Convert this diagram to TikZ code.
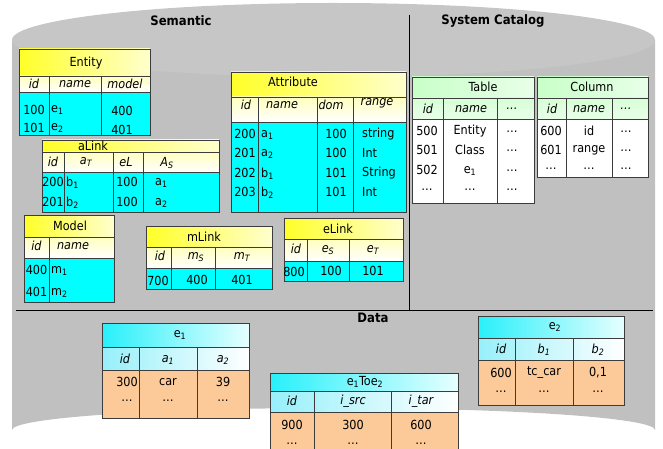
\documentclass[tikz,border=0pt]{standalone}
\usepackage{fontspec}
\setmainfont{DejaVu Sans Condensed}
\usetikzlibrary{shadings}
\definecolor{bdc}{RGB}{60,60,60}
\definecolor{cylBody}{RGB}{192,192,192}
\definecolor{cylTop}{RGB}{198,198,198}
\definecolor{yelA}{RGB}{255,255,40}
\definecolor{yelB}{RGB}{255,255,205}
\definecolor{yelH}{RGB}{255,255,190}
\definecolor{cyD}{RGB}{0,255,255}
\definecolor{grA}{RGB}{200,255,200}
\definecolor{grB}{RGB}{232,255,232}
\definecolor{grH}{RGB}{214,255,214}
\definecolor{bluA}{RGB}{40,240,250}
\definecolor{bluB}{RGB}{230,255,255}
\definecolor{bluH}{RGB}{150,240,250}
\definecolor{peach}{RGB}{252,202,152}
\tikzset{
  bd/.style={draw=bdc,line width=0.8pt},
  ttlY/.style={left color=yelA,right color=yelB},
  hdrY/.style={top color=yelH,bottom color=white},
  datY/.style={fill=cyD},
  ttlG/.style={left color=grA,right color=grB},
  hdrG/.style={top color=grH,bottom color=grB},
  datG/.style={fill=white},
  ttlB/.style={left color=bluA,right color=bluB},
  hdrB/.style={left color=bluH,right color=white},
  datB/.style={fill=peach},
  tx/.style={inner sep=0pt,anchor=center},
  tw/.style={inner sep=0pt,anchor=west},
  hd/.style={inner sep=0pt,anchor=center,font=\fontsize{12.5}{14}\selectfont\itshape},
  big/.style={inner sep=0pt,font=\fontsize{13}{15}\selectfont\bfseries},
  every node/.style={font=\fontsize{12.5}{14}\selectfont}
}
\newcommand{\tabl}[8]{%
  \path[ttl#1] (#2,#3) rectangle (#4,#6);
  \path[hdr#1] (#2,#6) rectangle (#4,#7);
  \path[dat#1] (#2,#7) rectangle (#4,#5);
  \draw[bd] (#2,#3) rectangle (#4,#5) (#2,#6) -- (#4,#6) (#2,#7) -- (#4,#7);
  \foreach \cx in {#8} {\draw[bd] (\cx,#6) -- (\cx,#5);}
}
\newcommand{\sbs}[1]{\textsubscript{#1}}
\begin{document}
\begin{tikzpicture}[x=1pt,y=-1pt]
\useasboundingbox (0,0) rectangle (663,449);
% cylinder
\fill[cylBody] (12,40) -- (12,430) arc[start angle=180,end angle=360,x radius=321.5,y radius=22] -- (655,40) -- cycle;
\fill[cylTop] (333.5,40) ellipse[x radius=321.5,y radius=37];
% dividers
\draw[black,line width=0.8pt] (409,15) -- (409,310.5);
\draw[black,line width=0.8pt] (16,310.5) -- (653,310.5);
\node[big] (lSem) at (181,21) {Semantic};
\node[big] (lSys) at (493,21) {System Catalog};
\node[big] (lDat) at (373,318) {Data};

% Entity
\tabl{Y}{19}{49}{150}{135}{76}{92}{49,101}
\node[tx] (enT) at (86,63) {Entity};
\node[hd] (enH1) at (34,84) {id};
\node[hd] (enH2) at (75,84) {name};
\node[hd] (enH3) at (125,84) {model};
\node[tx] (en11) at (34,110) {100};
\node[tw] (en12) at (51,110) {e\sbs{1}};
\node[tx] (en13) at (122,111) {400};
\node[tx] (en21) at (34,128) {101};
\node[tw] (en22) at (51,128) {e\sbs{2}};
\node[tx] (en23) at (122,130) {401};

% aLink
\tabl{Y}{42}{140}{219}{212}{152}{172}{64,113,143}
\node[tx] (alT) at (93,146) {aLink};
\node[hd] (alH1) at (53,162) {id};
\node[hd] (alH2) at (86,162) {a\sbs{T}};
\node[hd] (alH3) at (126,162) {eL};
\node[hd] (alH4) at (167,163) {A\sbs{S}};
\node[tx] (al11) at (53,182) {200};
\node[tw] (al12) at (66,183) {b\sbs{1}};
\node[tx] (al13) at (127,182) {100};
\node[tw] (al14) at (155,183) {a\sbs{1}};
\node[tx] (al21) at (53,202) {201};
\node[tw] (al22) at (66,203) {b\sbs{2}};
\node[tx] (al23) at (127,202) {100};
\node[tw] (al24) at (155,203) {a\sbs{2}};

% Attribute
\tabl{Y}{231}{72}{406}{212}{97}{122}{258,317,353}
\node[tx] (atT) at (293,82) {Attribute};
\node[hd] (atH1) at (246,105) {id};
\node[hd] (atH2) at (282,105) {name};
\node[hd] (atH3) at (331,105) {dom};
\node[hd] (atH4) at (377,103) {range};
\foreach \r/\yy/\nm/\dm/\rg in {1/134/a\sbs{1}/100/string,2/153/a\sbs{2}/100/Int,3/173/b\sbs{1}/101/String,4/192/b\sbs{2}/101/Int}{
  \pgfmathtruncatemacro{\idv}{199+\r}
  \node[tx] (at\r1) at (245,\yy) {\idv};
  \node[tw] (at\r2) at (261,\yy+1) {\nm};
  \node[tx] (at\r3) at (336,\yy) {\dm};
  \node[tw] (at\r4) at (362,\yy) {\rg};
}

% Model
\tabl{Y}{24}{215}{114}{302}{237}{258}{49}
\node[tx] (moT) at (70,226) {Model};
\node[hd] (moH1) at (36.5,246) {id};
\node[hd] (moH2) at (73,246) {name};
\node[tx] (mo11) at (36.5,270) {400};
\node[tw] (mo12) at (51,271) {m\sbs{1}};
\node[tx] (mo21) at (36.5,292) {401};
\node[tw] (mo22) at (51,293) {m\sbs{2}};

% mLink
\tabl{Y}{146}{226}{272}{289}{247}{268}{171,215}
\node[tx] (mlT) at (204,237) {mLink};
\node[hd] (mlH1) at (160,256) {id};
\node[hd] (mlH2) at (196,257) {m\sbs{S}};
\node[hd] (mlH3) at (242,257) {m\sbs{T}};
\node[tx] (ml11) at (158,281) {700};
\node[tx] (ml12) at (197,280) {400};
\node[tx] (ml13) at (242,280) {401};

% eLink
\tabl{Y}{284}{218}{403}{281}{239}{261}{307,349}
\node[tx] (elT) at (338,229) {eLink};
\node[hd] (elH1) at (296,249) {id};
\node[hd] (elH2) at (328,250) {e\sbs{S}};
\node[hd] (elH3) at (373,250) {e\sbs{T}};
\node[tx] (el11) at (294,272) {800};
\node[tx] (el12) at (331,271) {100};
\node[tx] (el13) at (373,271) {101};

% Table
\tabl{G}{412}{77}{534}{203}{98}{119}{443,497}
\node[tx] (taT) at (483,87) {Table};
\node[hd] (taH1) at (428,109) {id};
\node[hd] (taH2) at (471,109) {name};
\node[hd] (taH3) at (512,109) {\dots};
\node[tx] (ta11) at (427,131) {500};
\node[tx] (ta12) at (470,131) {Entity};
\node[tx] (ta13) at (512,132) {\dots};
\node[tx] (ta21) at (427,150) {501};
\node[tx] (ta22) at (470,150) {Class};
\node[tx] (ta23) at (512,151) {\dots};
\node[tx] (ta31) at (427,170) {502};
\node[tx] (ta32) at (470,171) {e\sbs{1}};
\node[tx] (ta33) at (512,171) {\dots};
\node[tx] (ta41) at (427,190) {\dots};
\node[tx] (ta42) at (470,190) {\dots};
\node[tx] (ta43) at (512,190) {\dots};

% Column
\tabl{G}{537}{77}{648}{177}{98}{119}{566,612}
\node[tx] (coT) at (592,87) {Column};
\node[hd] (coH1) at (552,109) {id};
\node[hd] (coH2) at (589,109) {name};
\node[hd] (coH3) at (626,109) {\dots};
\node[tx] (co11) at (551,131) {600};
\node[tx] (co12) at (589,131) {id};
\node[tx] (co13) at (626,132) {\dots};
\node[tx] (co21) at (551,150) {601};
\node[tx] (co22) at (589,150) {range};
\node[tx] (co23) at (626,151) {\dots};
\node[tx] (co31) at (551,169) {\dots};
\node[tx] (co32) at (589,169) {\dots};
\node[tx] (co33) at (626,169) {\dots};

% e1
\tabl{B}{102}{323}{249}{418}{347}{370}{139,197}
\node[tx] (daT) at (180,335) {e\sbs{1}};
\node[hd] (daH1) at (125,359) {id};
\node[hd] (daH2) at (168,360) {a\sbs{1}};
\node[hd] (daH3) at (223,360) {a\sbs{2}};
\node[tx] (da11) at (127,382) {300};
\node[tx] (da12) at (168,382) {car};
\node[tx] (da13) at (223,382) {39};
\node[tx] (da21) at (127,401) {\dots};
\node[tx] (da22) at (168,401) {\dots};
\node[tx] (da23) at (223,401) {\dots};

% e2
\tabl{B}{478}{316}{624}{405}{338}{360}{515,573}
\node[tx] (dbT) at (555,327) {e\sbs{2}};
\node[hd] (dbH1) at (501,349) {id};
\node[hd] (dbH2) at (544,350) {b\sbs{1}};
\node[hd] (dbH3) at (598,350) {b\sbs{2}};
\node[tx] (db11) at (501,373) {600};
\node[tx] (db12) at (544,373) {tc\_car};
\node[tx] (db13) at (598,373) {0,1};
\node[tx] (db21) at (501,392) {\dots};
\node[tx] (db22) at (544,392) {\dots};
\node[tx] (db23) at (598,392) {\dots};

% e1Toe2
\tabl{B}{270}{373}{458}{455}{391}{412}{314,391}
\node[tx] (dcT) at (365,382) {e\sbs{1}Toe\sbs{2}};
\node[hd] (dcH1) at (292,401) {id};
\node[hd] (dcH2) at (353,401) {i\_src};
\node[hd] (dcH3) at (421,401) {i\_tar};
\node[tx] (dc11) at (292,425) {900};
\node[tx] (dc12) at (353,425) {300};
\node[tx] (dc13) at (421,425) {600};
\node[tx] (dc21) at (292,444) {\dots};
\node[tx] (dc22) at (353,444) {\dots};
\node[tx] (dc23) at (421,444) {\dots};
\end{tikzpicture}
\end{document}
